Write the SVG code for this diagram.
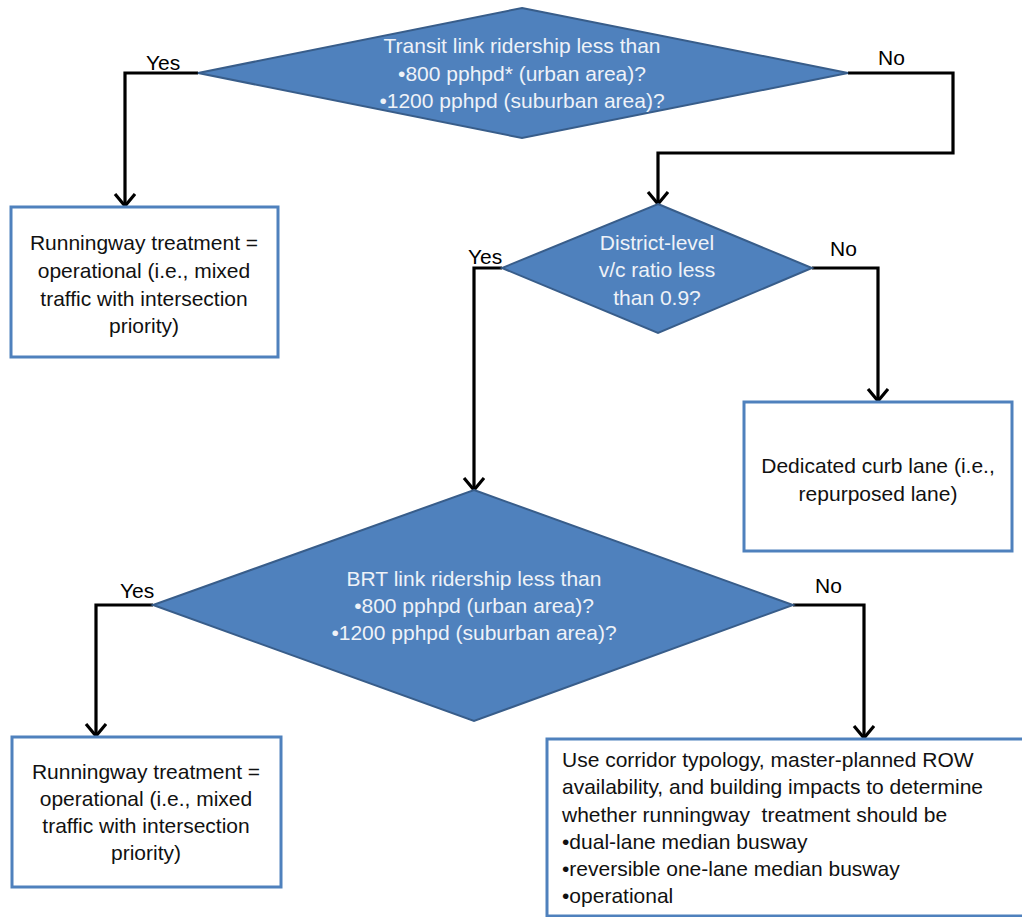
<svg xmlns="http://www.w3.org/2000/svg" width="1022" height="917" viewBox="0 0 1022 917">
  <defs>
    <marker id="arrow" markerUnits="userSpaceOnUse" markerWidth="30" markerHeight="30" viewBox="0 0 30 30" refX="14" refY="11" orient="auto">
      <path d="M2,1 L14,11 L2,21" fill="none" stroke="#000" stroke-width="3.2" stroke-linejoin="miter"/>
    </marker>
    <style>
      .decision { fill: #4f81bd; stroke: #385d8a; stroke-width: 2; }
      .box { fill: #fff; stroke: #4f81bd; stroke-width: 3; }
      .conn { fill: none; stroke: #000; stroke-width: 3.2; stroke-linejoin: miter; }
      text { font-family: "Liberation Sans", Arial, sans-serif; font-size: 21px; }
      .dtext { fill: #eef2f8; text-anchor: middle; }
      .btext { fill: #111; text-anchor: middle; }
      .ltext { fill: #111; white-space: pre; }
      .label { fill: #000; font-size: 21px; }
    </style>
  </defs>
  <rect width="1022" height="917" fill="#fff"/>

  <!-- connectors -->
  <g id="connectors">
    <path class="conn" d="M198,73 H125 V206" marker-end="url(#arrow)"/>
    <path class="conn" d="M848,73 H953 V153 H658 V204" marker-end="url(#arrow)"/>
    <path class="conn" d="M502,268 H474 V490" marker-end="url(#arrow)"/>
    <path class="conn" d="M812,268 H878 V401" marker-end="url(#arrow)"/>
    <path class="conn" d="M153,605 H96 V736" marker-end="url(#arrow)"/>
    <path class="conn" d="M793,605 H864 V738" marker-end="url(#arrow)"/>
    <text class="label" x="146" y="70">Yes</text>
    <text class="label" x="878" y="65">No</text>
    <text class="label" x="468" y="264">Yes</text>
    <text class="label" x="830" y="256">No</text>
    <text class="label" x="120" y="598">Yes</text>
    <text class="label" x="815" y="593">No</text>
  </g>

  <!-- decision: transit link ridership -->
  <g id="transit-ridership">
    <polygon class="decision" points="522,8 848,73 522,138 198,73"/>
    <text class="dtext" x="522" y="53">Transit link ridership less than</text>
    <text class="dtext" x="522" y="81">•800 pphpd* (urban area)?</text>
    <text class="dtext" x="522" y="108">•1200 pphpd (suburban area)?</text>
  </g>

  <!-- outcome: operational (upper) -->
  <g id="operational-1">
    <rect class="box" x="11" y="207" width="267" height="150"/>
    <text class="btext" x="144" y="250">Runningway treatment =</text>
    <text class="btext" x="144" y="278">operational (i.e., mixed</text>
    <text class="btext" x="144" y="306">traffic with intersection</text>
    <text class="btext" x="144" y="333">priority)</text>
  </g>

  <!-- decision: district v/c ratio -->
  <g id="district-vc">
    <polygon class="decision" points="658,204 812,268 658,333 502,268"/>
    <text class="dtext" x="657" y="250">District-level</text>
    <text class="dtext" x="657" y="277">v/c ratio less</text>
    <text class="dtext" x="657" y="305">than 0.9?</text>
  </g>

  <!-- outcome: dedicated curb lane -->
  <g id="curb-lane">
    <rect class="box" x="744" y="402" width="268" height="149"/>
    <text class="btext" x="878" y="473">Dedicated curb lane (i.e.,</text>
    <text class="btext" x="878" y="501">repurposed lane)</text>
  </g>

  <!-- decision: BRT link ridership -->
  <g id="brt-ridership">
    <polygon class="decision" points="474,490 793,605 474,721 153,605"/>
    <text class="dtext" x="474" y="586">BRT link ridership less than</text>
    <text class="dtext" x="474" y="613">•800 pphpd (urban area)?</text>
    <text class="dtext" x="474" y="640">•1200 pphpd (suburban area)?</text>
  </g>

  <!-- outcome: operational (lower) -->
  <g id="operational-2">
    <rect class="box" x="12" y="737" width="269" height="150"/>
    <text class="btext" x="146" y="779">Runningway treatment =</text>
    <text class="btext" x="146" y="806">operational (i.e., mixed</text>
    <text class="btext" x="146" y="833">traffic with intersection</text>
    <text class="btext" x="146" y="860">priority)</text>
  </g>

  <!-- outcome: corridor typology review -->
  <g id="corridor-typology">
    <rect class="box" x="547" y="739" width="490" height="177"/>
    <text class="ltext" x="562" y="767">Use corridor typology, master-planned ROW</text>
    <text class="ltext" x="562" y="794">availability, and building impacts to determine</text>
    <text class="ltext" x="562" y="822">whether runningway  treatment should be</text>
    <text class="ltext" x="562" y="849">•dual-lane median busway</text>
    <text class="ltext" x="562" y="876">•reversible one-lane median busway</text>
    <text class="ltext" x="562" y="903">•operational</text>
  </g>
</svg>
